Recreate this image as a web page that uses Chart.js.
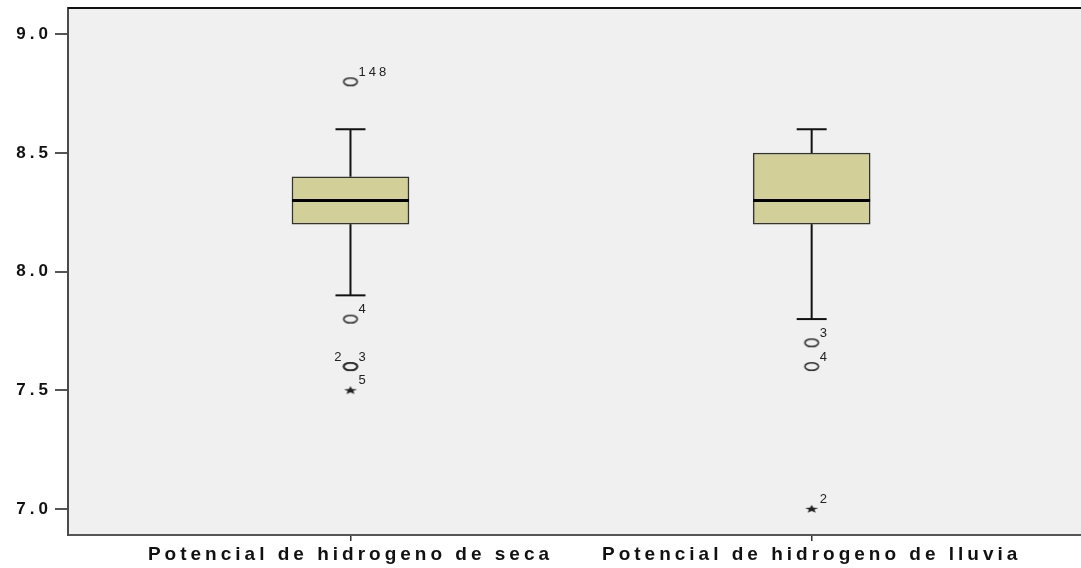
<!DOCTYPE html>
<html>
<head>
<meta charset="utf-8">
<script src="https://cdn.jsdelivr.net/npm/chart.js@4.4.0/dist/chart.umd.min.js"></script>
<style>
  html, body { margin: 0; padding: 0; background: #fff; }
  canvas { display: block; }
</style>
</head>
<body>
<canvas id="grafico" width="1081" height="568"></canvas>
<script>
// Datos del diagrama de caja
const categorias = ['Potencial de hidrogeno de seca', 'Potencial de hidrogeno de lluvia'];
const posiciones = [1, 2];
const bigoteMin = [7.9, 7.8];
const q1 = [8.2, 8.2];
const mediana = [8.3, 8.3];
const q3 = [8.4, 8.5];
const bigoteMax = [8.6, 8.6];

// atípicos (círculos) y extremos (estrellas), con su número de caso
const atipicosSeca = [8.8, 7.8, 7.6, 7.6];
const etiquetasAtipicosSeca = ['148', '4', '2', '3'];
const extremosSeca = [7.5];
const etiquetasExtremosSeca = ['5'];
const atipicosLluvia = [7.7, 7.6];
const etiquetasAtipicosLluvia = ['3', '4'];
const extremosLluvia = [7.0];
const etiquetasExtremosLluvia = ['2'];

const ticksY = [7.0, 7.5, 8.0, 8.5, 9.0];

// estilos
const FUENTE = "'Liberation Sans', Arial, sans-serif";
const ANCHO_CAJA = 117;
const ANCHO_TOPE = 30;

// marcadores como imágenes (la figura original está estirada en horizontal)
function crearCirculo() {
    const c = document.createElement('canvas');
    c.width = 18; c.height = 11;
    const g = c.getContext('2d');
    g.strokeStyle = '#2e2e2e';
    g.lineWidth = 1.6;
    g.beginPath();
    g.ellipse(9, 5.5, 6.8, 3.8, 0, 0, Math.PI * 2);
    g.stroke();
    return c;
}

function crearEstrella() {
    const c = document.createElement('canvas');
    c.width = 16; c.height = 10;
    const g = c.getContext('2d');
    g.fillStyle = '#222';
    g.beginPath();
    for (let k = 0; k < 10; k++) {
        const r = k % 2 === 0 ? 4.3 : 1.8;
        const a = -Math.PI / 2 + k * Math.PI / 5;
        const px = 8 + Math.cos(a) * r * 1.6;
        const py = 5.3 + Math.sin(a) * r;
        if (k === 0) g.moveTo(px, py); else g.lineTo(px, py);
    }
    g.closePath();
    g.fill();
    return c;
}

const puntosCirculo = [
    ...atipicosSeca.map((v) => ({ x: posiciones[0], y: v })),
    ...atipicosLluvia.map((v) => ({ x: posiciones[1], y: v })),
];
const puntosEstrella = [
    ...extremosSeca.map((v) => ({ x: posiciones[0], y: v })),
    ...extremosLluvia.map((v) => ({ x: posiciones[1], y: v })),
];

const grupos = [
    { pos: posiciones[0], valores: atipicosSeca.concat(extremosSeca), etiquetas: etiquetasAtipicosSeca.concat(etiquetasExtremosSeca) },
    { pos: posiciones[1], valores: atipicosLluvia.concat(extremosLluvia), etiquetas: etiquetasAtipicosLluvia.concat(etiquetasExtremosLluvia) },
];

const sinRelleno = (scale) => {
    scale.paddingTop = 0;
    scale.paddingBottom = 0;
    scale.paddingLeft = 0;
    scale.paddingRight = 0;
};

const fondoYMarco = {
    id: 'fondoYMarco',
    beforeDraw(chart) {
        const { ctx, chartArea: a } = chart;
        ctx.letterSpacing = '4px';
        ctx.save();
        ctx.fillStyle = '#f0f0f0';
        ctx.fillRect(a.left, a.top, a.right - a.left, a.bottom - a.top);
        ctx.restore();
    },
    afterDraw(chart) {
        const { ctx, chartArea: a } = chart;
        ctx.save();
        ctx.strokeStyle = '#111';
        ctx.lineWidth = 2;
        ctx.beginPath();
        ctx.moveTo(a.left, a.top);
        ctx.lineTo(a.right, a.top);
        ctx.stroke();
        ctx.restore();
    },
};

const bigotes = {
    id: 'bigotes',
    afterDatasetsDraw(chart) {
        const { ctx, scales: { x, y } } = chart;
        ctx.save();
        ctx.strokeStyle = '#111';
        const linea = (x1, y1, x2, y2) => {
            ctx.beginPath();
            ctx.moveTo(x1, y1);
            ctx.lineTo(x2, y2);
            ctx.stroke();
        };
        posiciones.forEach((p, i) => {
            const cx = x.getPixelForValue(p);
            ctx.lineWidth = 2;
            linea(cx, y.getPixelForValue(q3[i]), cx, y.getPixelForValue(bigoteMax[i]));
            linea(cx, y.getPixelForValue(q1[i]), cx, y.getPixelForValue(bigoteMin[i]));
            linea(cx - ANCHO_TOPE / 2, y.getPixelForValue(bigoteMax[i]), cx + ANCHO_TOPE / 2, y.getPixelForValue(bigoteMax[i]));
            linea(cx - ANCHO_TOPE / 2, y.getPixelForValue(bigoteMin[i]), cx + ANCHO_TOPE / 2, y.getPixelForValue(bigoteMin[i]));
            ctx.lineWidth = 3;
            ctx.strokeStyle = '#000';
            linea(cx - ANCHO_CAJA / 2, y.getPixelForValue(mediana[i]), cx + ANCHO_CAJA / 2, y.getPixelForValue(mediana[i]));
            ctx.strokeStyle = '#111';
        });

        // números de caso
        ctx.font = '13px ' + FUENTE;
        ctx.letterSpacing = '3px';
        ctx.fillStyle = '#222';
        ctx.textBaseline = 'alphabetic';
        grupos.forEach((g) => {
            const cx = x.getPixelForValue(g.pos);
            const vistos = {};
            g.valores.forEach((v, k) => {
                const py = y.getPixelForValue(v) - 6;
                const repetido = g.valores.filter((w) => w === v).length > 1;
                if (repetido && !vistos[v]) {
                    vistos[v] = true;
                    ctx.textAlign = 'right';
                    ctx.fillText(g.etiquetas[k], cx - 6, py);
                } else {
                    ctx.textAlign = 'left';
                    ctx.fillText(g.etiquetas[k], cx + 8, py);
                }
            });
        });
        ctx.restore();
    },
};

new Chart(document.getElementById('grafico'), {
    type: 'bar',
    data: {
        datasets: [
            {
                type: 'bar',
                data: posiciones.map((p, i) => ({ x: p, y: [q1[i], q3[i]] })),
                backgroundColor: '#d3cf98',
                borderColor: '#333',
                borderWidth: 1.5,
                borderSkipped: false,
                barThickness: ANCHO_CAJA,
            },
            {
                type: 'scatter',
                data: puntosCirculo,
                pointStyle: crearCirculo(),
            },
            {
                type: 'scatter',
                data: puntosEstrella,
                pointStyle: crearEstrella(),
            },
        ],
    },
    options: {
        responsive: false,
        animation: false,
        devicePixelRatio: 1,
        layout: { autoPadding: false, padding: { top: 8, left: 0, right: 0, bottom: 0 } },
        plugins: { legend: { display: false }, tooltip: { enabled: false } },
        scales: {
            x: {
                type: 'linear',
                offset: false,
                min: 0.3875,
                max: 2.584,
                afterBuildTicks: (scale) => { scale.ticks = posiciones.map((v) => ({ value: v })); },
                afterFit: (scale) => { scale.height = 33; sinRelleno(scale); },
                ticks: {
                    callback: (v) => categorias[posiciones.indexOf(v)],
                    font: { family: FUENTE, size: 19, weight: 'bold' },
                    color: '#111',
                    padding: 2,
                    maxRotation: 0,
                    minRotation: 0,
                    autoSkip: false,
                },
                grid: { offset: false, drawOnChartArea: false, tickLength: 6, color: '#333', lineWidth: 1.5 },
                border: { display: true, color: '#555', width: 2 },
            },
            y: {
                min: 6.89,
                max: 9.111,
                afterBuildTicks: (scale) => { scale.ticks = ticksY.map((v) => ({ value: v })); },
                afterFit: (scale) => { scale.width = 68; sinRelleno(scale); },
                ticks: {
                    callback: (v) => v.toFixed(1),
                    font: { family: FUENTE, size: 17, weight: 'bold' },
                    color: '#111',
                    padding: 3,
                },
                grid: { drawOnChartArea: false, tickLength: 13, color: '#555', lineWidth: 2 },
                border: { display: true, color: '#4a4a4a', width: 2 },
            },
        },
    },
    plugins: [fondoYMarco, bigotes],
});
</script>
</body>
</html>
